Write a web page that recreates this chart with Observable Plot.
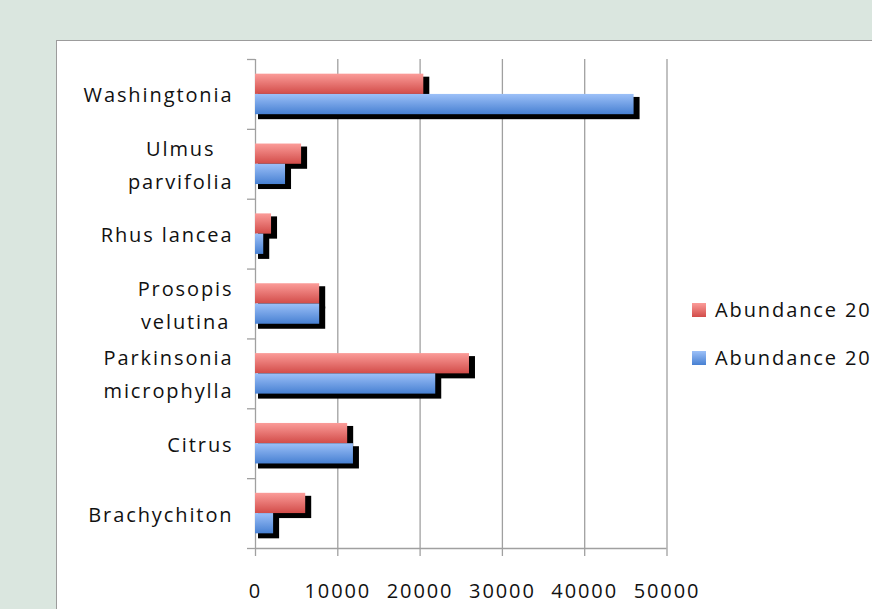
<!DOCTYPE html>
<html>
<head>
<meta charset="utf-8">
<script src="https://cdn.jsdelivr.net/npm/d3@7"></script>
<script src="https://cdn.jsdelivr.net/npm/@observablehq/plot@0.6"></script>
<style>
  html, body { margin: 0; padding: 0; }
  body { width: 872px; height: 609px; overflow: hidden; background: #dae6df; position: relative; font-family: "Open Sans", sans-serif; }
  #panel { position: absolute; left: 56px; top: 40px; width: 900px; height: 700px; background: #fff; border: 1.5px solid #9c9c9c; box-sizing: border-box; }
  #chart { position: absolute; left: 0; top: 0; }
  #legend { position: absolute; left: 692px; top: 295px; font-size: 20px; letter-spacing: 1.9px; color: #111; white-space: nowrap; }
  .item { position: relative; height: 48px; }
  .sw { position: absolute; left: 0; top: 8px; width: 14px; height: 14px; }
  .lab { position: absolute; left: 23px; top: 0; line-height: 30px; }
</style>
</head>
<body>
<div id="panel"></div>
<div id="chart"></div>
<div id="legend"></div>
<script>
// ---- data ----
const species = ["Brachychiton", "Citrus", "Parkinsonia\nmicrophylla", "Prosopis\nvelutina", "Rhus lancea", "Ulmus\nparvifolia", "Washingtonia"];
const abundanceRed = [6100, 11200, 26000, 7800, 1950, 5600, 20450];
const abundanceBlue = [2200, 11900, 21900, 7800, 1000, 3650, 46000];
const seriesNames = ["Abundance 2009", "Abundance 2008"];
const xTicks = [0, 10000, 20000, 30000, 40000, 50000];

const red = species.map((s, i) => ({i, s, v: abundanceRed[i]}));
const blue = species.map((s, i) => ({i, s, v: abundanceBlue[i]}));
const barH = 0.29;
const grey = "#a0a0a0";

const svg = Plot.plot({
  width: 872,
  height: 609,
  marginLeft: 255,
  marginRight: 205.5,
  marginTop: 59,
  marginBottom: 61,
  style: {background: "transparent", fontFamily: "Open Sans, sans-serif", fontSize: "20px", color: "#111", letterSpacing: "1.9px"},
  x: {domain: [0, 50000], label: null},
  y: {domain: [0, species.length], label: null},
  marks: [
    Plot.gridX(xTicks, {stroke: grey, strokeOpacity: 1, strokeWidth: 1.3}),
    Plot.ruleY([0], {stroke: grey, strokeWidth: 1.3}),
    Plot.axisY(d3.range(species.length + 1), {tickSize: 8, tickFormat: () => "", label: null, stroke: grey, strokeWidth: 1.3, strokeOpacity: 1}),
    Plot.axisY(d3.range(species.length).map(i => i + 0.5), {tickSize: 0, tickPadding: 22, dy: -2.5, label: null, tickFormat: v => species[Math.round(v - 0.5)], lineHeight: 1.65, fill: "#111", textOverflow: null}),
    Plot.axisX(xTicks, {tickSize: 8, tickPadding: 27, label: null, stroke: grey, strokeWidth: 1.3, strokeOpacity: 1, tickFormat: d3.format("d"), fill: "#111"}),
    // shadows
    Plot.rect(red, {x1: 0, x2: "v", y1: d => d.i + 0.5, y2: d => d.i + 0.5 + barH, fill: "#000", dx: 3, dy: 3, insetRight: -3, insetBottom: -2}),
    Plot.rect(blue, {x1: 0, x2: "v", y1: d => d.i + 0.5 - barH, y2: d => d.i + 0.5, fill: "#000", dx: 3, dy: 3, insetRight: -3, insetBottom: -2}),
    // bars
    Plot.rect(red, {x1: 0, x2: "v", y1: d => d.i + 0.5, y2: d => d.i + 0.5 + barH, fill: "url(#gradRed)"}),
    Plot.rect(blue, {x1: 0, x2: "v", y1: d => d.i + 0.5 - barH, y2: d => d.i + 0.5, fill: "url(#gradBlue)"})
  ]
});

// gradients
const defs = d3.select(svg).insert("defs", ":first-child");
function grad(id, top, bottom) {
  const g = defs.append("linearGradient").attr("id", id).attr("x1", 0).attr("y1", 0).attr("x2", 0).attr("y2", 1);
  g.append("stop").attr("offset", "0%").attr("stop-color", top);
  g.append("stop").attr("offset", "100%").attr("stop-color", bottom);
}
grad("gradRed", "#fb9c99", "#d24c49");
grad("gradBlue", "#9cc0f8", "#4780d2");

document.getElementById("chart").appendChild(svg);

// center multi-line category labels within their block
d3.select(svg).selectAll("text").each(function() {
  const tspans = this.querySelectorAll("tspan");
  if (tspans.length > 1) {
    const w = d3.max(Array.from(tspans), t => t.getComputedTextLength());
    this.setAttribute("text-anchor", "middle");
    tspans.forEach(t => t.setAttribute("x", -w / 2));
  }
});

// legend
const legend = document.getElementById("legend");
[["linear-gradient(#fb9c99, #d24c49)", seriesNames[0]], ["linear-gradient(#9cc0f8, #4780d2)", seriesNames[1]]].forEach(([bg, name]) => {
  const it = document.createElement("div");
  it.className = "item";
  it.innerHTML = `<div class="sw" style="background:${bg}"></div><div class="lab">${name}</div>`;
  legend.appendChild(it);
});
</script>
</body>
</html>
